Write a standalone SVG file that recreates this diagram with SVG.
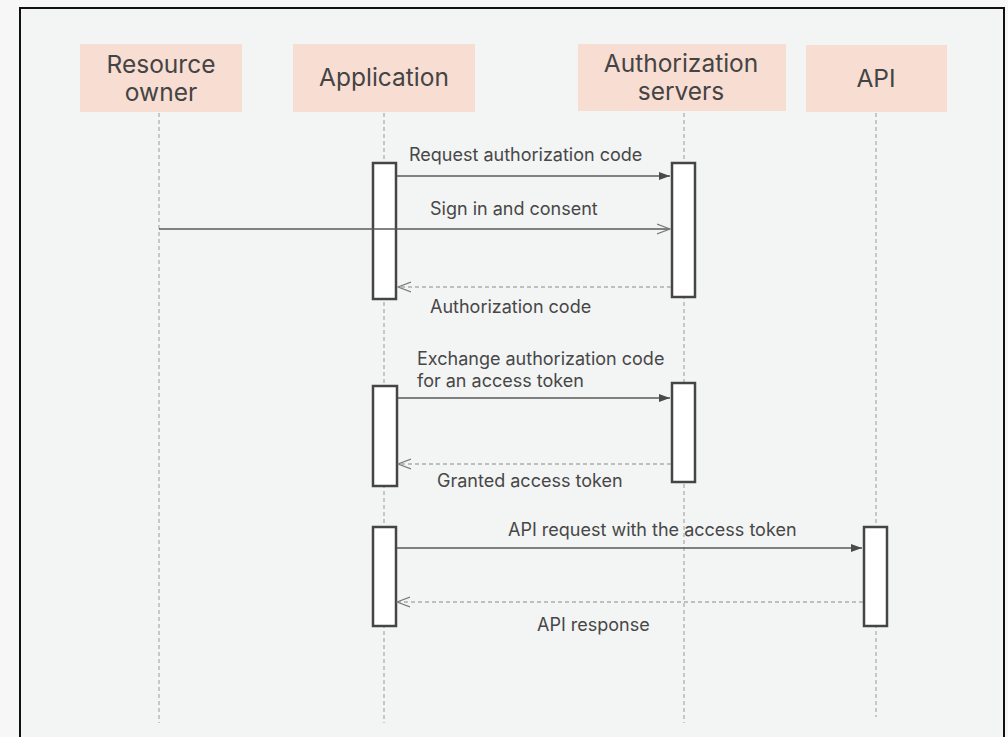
<svg xmlns="http://www.w3.org/2000/svg" width="1008" height="737" viewBox="0 0 1008 737">
<defs>
<style>
.hdr{fill:#f8ddd3}
.ht{font-family:Inter,"Liberation Sans",sans-serif;font-size:24.5px;fill:#444444;text-anchor:middle}
.lbl{font-family:Inter,"Liberation Sans",sans-serif;font-size:18px;fill:#474747}
.life{stroke:#9a9a9a;stroke-width:1;stroke-dasharray:4 3;fill:none}
.act{fill:#ffffff;stroke:#454545;stroke-width:2.5}
.msg{stroke:#5a5a5a;stroke-width:1.3;fill:none}
.ret{stroke:#8a8a8a;stroke-width:1.2;stroke-dasharray:4 3;fill:none}
</style>
<marker id="filled" markerWidth="12" markerHeight="10" refX="11" refY="5" orient="auto" markerUnits="userSpaceOnUse">
<path d="M0,1 L11,5 L0,9 Z" fill="#4a4a4a"/>
</marker>
<marker id="open" markerWidth="14" markerHeight="12" refX="13" refY="6" orient="auto" markerUnits="userSpaceOnUse">
<path d="M0,1 L13,6 L0,11" fill="none" stroke="#7a7a7a" stroke-width="1.2"/>
</marker>
</defs>
<rect x="0" y="0" width="1008" height="737" fill="#f7f7f7"/>
<rect x="20" y="8" width="984" height="740" fill="#f3f4f4" stroke="#111" stroke-width="2"/>

<g id="lifelines">
<line class="life" x1="159" y1="113" x2="159" y2="723"/>
<line class="life" x1="384" y1="113" x2="384" y2="723"/>
<line class="life" x1="684" y1="113" x2="684" y2="723"/>
<line class="life" x1="876" y1="113" x2="876" y2="717"/>
</g>

<g id="resource-owner">
<rect class="hdr" x="80" y="44" width="162" height="68"/>
<text class="ht" x="161" y="73">Resource</text>
<text class="ht" x="161" y="101">owner</text>
</g>
<g id="application">
<rect class="hdr" x="293" y="44" width="182" height="68"/>
<text class="ht" x="384" y="86">Application</text>
</g>
<g id="authorization-servers">
<rect class="hdr" x="578" y="44" width="208" height="67"/>
<text class="ht" x="681" y="72">Authorization</text>
<text class="ht" x="681" y="100">servers</text>
</g>
<g id="api">
<rect class="hdr" x="806" y="45" width="141" height="67"/>
<text class="ht" x="876" y="87">API</text>
</g>

<g id="activations">
<rect class="act" x="373" y="163" width="23" height="136"/>
<rect class="act" x="672" y="163" width="23" height="134"/>
<rect class="act" x="373" y="386" width="24" height="100"/>
<rect class="act" x="672" y="383" width="23" height="99"/>
<rect class="act" x="373" y="527" width="23" height="99"/>
<rect class="act" x="864" y="527" width="23" height="99"/>
</g>

<g id="connectors">
<line class="msg" x1="397" y1="176" x2="670" y2="176" marker-end="url(#filled)"/>
<line class="msg" x1="159" y1="229" x2="670" y2="229" marker-end="url(#open)"/>
<line class="ret" x1="671" y1="287" x2="398" y2="287" marker-end="url(#open)"/>
<line class="msg" x1="398" y1="398" x2="670" y2="398" marker-end="url(#filled)"/>
<line class="ret" x1="671" y1="464" x2="398" y2="464" marker-end="url(#open)"/>
<line class="msg" x1="397" y1="548" x2="862" y2="548" marker-end="url(#filled)"/>
<line class="ret" x1="863" y1="602" x2="397" y2="602" marker-end="url(#open)"/>
</g>

<g id="labels">
<text class="lbl" x="409" y="161">Request authorization code</text>
<text class="lbl" x="430" y="215">Sign in and consent</text>
<text class="lbl" x="430" y="313">Authorization code</text>
<text class="lbl" x="417" y="365">Exchange authorization code</text>
<text class="lbl" x="417" y="387">for an access token</text>
<text class="lbl" x="437" y="487">Granted access token</text>
<text class="lbl" x="508" y="536">API request with the access token</text>
<text class="lbl" x="537" y="631">API response</text>
</g>
</svg>
